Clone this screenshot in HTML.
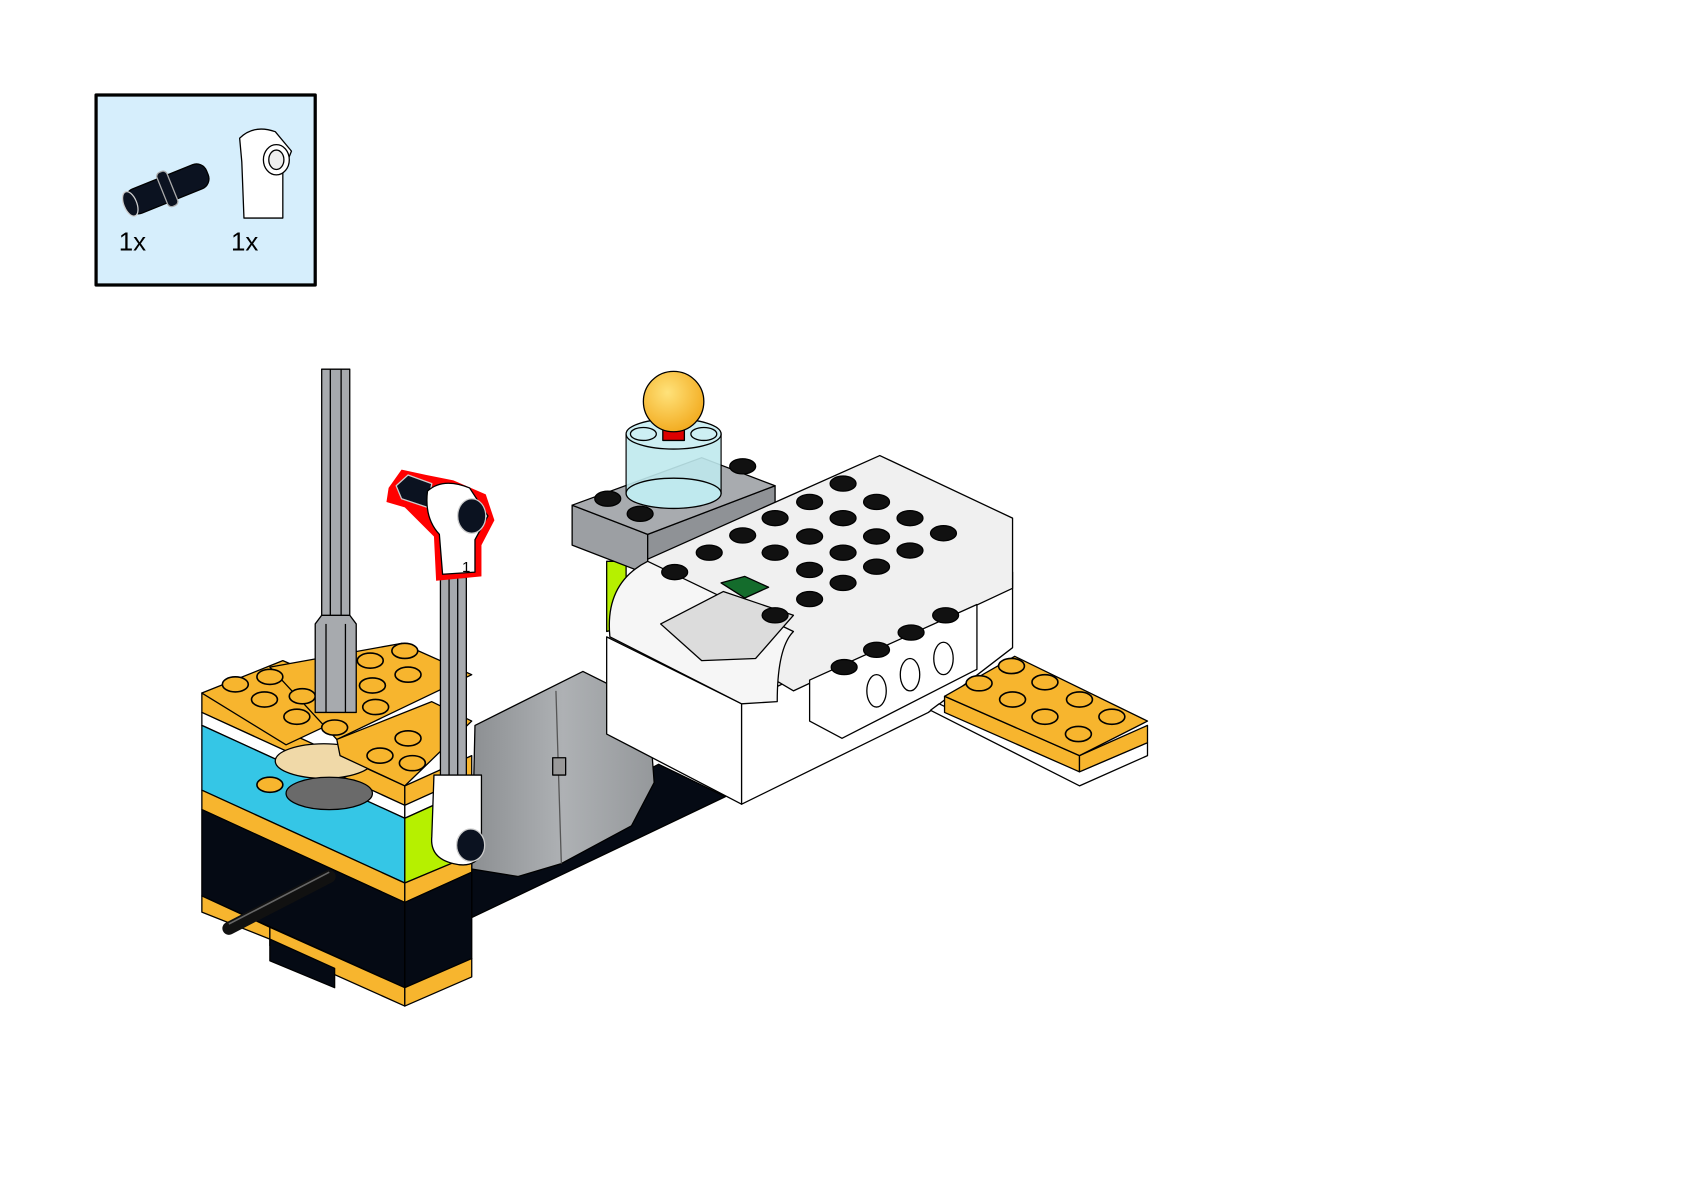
<!DOCTYPE html>
<html><head><meta charset="utf-8"><style>
html,body{margin:0;padding:0;background:#fff;width:1684px;height:1190px;overflow:hidden}
svg{display:block}
text{font-family:"Liberation Sans",sans-serif}
</style></head><body>
<svg width="1684" height="1190" viewBox="0 0 1560 1102.4" preserveAspectRatio="none" xmlns="http://www.w3.org/2000/svg">
<defs>
<radialGradient id="bulb" cx="0.4" cy="0.35" r="0.7"><stop offset="0" stop-color="#ffe27a"/><stop offset="1" stop-color="#f2a91c"/></radialGradient>
<linearGradient id="mot" x1="0" x2="1"><stop offset="0" stop-color="#8c8f92"/><stop offset="0.5" stop-color="#aeb1b4"/><stop offset="1" stop-color="#95989b"/></linearGradient>
</defs>
<g stroke="#000" stroke-width="1.2" stroke-linejoin="round">
<rect x="89" y="88" width="203" height="176" fill="#d6eefc" stroke-width="3"/>
<g transform="rotate(-22 155 175)">
<rect x="115" y="163" width="80" height="24" rx="10" fill="#0b1220"/>
<rect x="150" y="158" width="10" height="34" rx="4" fill="#0b1220" stroke="#aaa"/>
<ellipse cx="118" cy="175" rx="6" ry="12" fill="#0b1220" stroke="#ccc"/>
</g>
<path d="M222 128 Q235 115 255 122 L270 140 L262 160 L262 202 L226 202 L224 150 Z" fill="#fff"/>
<ellipse cx="256" cy="148" rx="12" ry="14" fill="#fff"/>
<ellipse cx="256" cy="148" rx="7" ry="9" fill="#eee"/>
<text x="110" y="232" font-size="24" stroke="none" fill="#000">1x</text>
<text x="214" y="232" font-size="24" stroke="none" fill="#000">1x</text>

<polygon points="437,800 610,708 672,738 437,850" fill="#050a14"/>
<polygon points="440,672 540,622 580,642 603,685 606,725 585,765 520,800 480,812 437,805" fill="url(#mot)"/>
<path d="M515 640 L520 800" fill="none" stroke="#555"/>
<rect x="512" y="702" width="12" height="16" fill="#999"/>

<polygon points="187,642 375,728 375,746 187,660" fill="#f7b52e"/>
<polygon points="187,660 375,746 375,758 187,672" fill="#fff"/>
<polygon points="187,672 375,758 375,818 187,732" fill="#35c6e6"/>
<polygon points="187,732 375,818 375,836 187,750" fill="#f7b52e"/>
<polygon points="187,750 375,836 375,915 187,830" fill="#050a14"/>
<polygon points="187,830 250,859 250,870 187,845" fill="#f7b52e"/>
<polygon points="250,859 375,915 375,932 250,876" fill="#f7b52e"/>
<polygon points="250,870 310,897 310,915 250,890" fill="#050a14"/>
<polygon points="375,728 437,700 437,718 375,746" fill="#f7b52e"/>
<polygon points="375,746 437,718 437,730 375,758" fill="#fff"/>
<polygon points="375,758 437,730 437,792 375,818" fill="#b6f000"/>
<polygon points="375,818 437,792 437,808 375,836" fill="#f7b52e"/>
<polygon points="375,836 437,808 437,888 375,915" fill="#050a14"/>
<polygon points="375,915 437,888 437,905 375,932" fill="#f7b52e"/>
<ellipse cx="300" cy="705" rx="45" ry="16" fill="#f0d9a8"/>
<ellipse cx="305" cy="735" rx="40" ry="15" fill="#6a6a6a"/>
<polygon points="187,642 262,612 350,650 265,690" fill="#f7b52e"/>
<polygon points="250,618 372,596 437,625 312,685" fill="#f7b52e"/>
<polygon points="312,685 400,650 437,668 375,728 315,700" fill="#f7b52e"/>
<g fill="#f7b52e" stroke-width="1.5">
<ellipse cx="218" cy="634" rx="12" ry="7"/><ellipse cx="250" cy="627" rx="12" ry="7"/>
<ellipse cx="245" cy="648" rx="12" ry="7"/><ellipse cx="280" cy="645" rx="12" ry="7"/>
<ellipse cx="275" cy="664" rx="12" ry="7"/><ellipse cx="310" cy="674" rx="12" ry="7"/>
<ellipse cx="343" cy="612" rx="12" ry="7"/><ellipse cx="375" cy="603" rx="12" ry="7"/>
<ellipse cx="345" cy="635" rx="12" ry="7"/><ellipse cx="378" cy="625" rx="12" ry="7"/>
<ellipse cx="348" cy="655" rx="12" ry="7"/><ellipse cx="378" cy="684" rx="12" ry="7"/>
<ellipse cx="352" cy="700" rx="12" ry="7"/><ellipse cx="382" cy="707" rx="12" ry="7"/>
<ellipse cx="250" cy="727" rx="12" ry="7"/>
</g>
<path d="M212 860 L305 812" stroke="#111" stroke-width="12" stroke-linecap="round"/>
<path d="M212 856 L305 808" stroke="#666" stroke-width="1.5"/>

<rect x="298" y="342" width="26" height="235" fill="#a7aaae"/>
<line x1="306" y1="342" x2="306" y2="577"/><line x1="316" y1="342" x2="316" y2="577"/>
<path d="M292 578 L298 570 L324 570 L330 578 L330 660 L292 660 Z" fill="#a7aaae"/>
<line x1="302" y1="578" x2="302" y2="660"/><line x1="320" y1="578" x2="320" y2="660"/>

<rect x="408" y="535" width="24" height="185" fill="#a7aaae"/>
<line x1="416" y1="535" x2="416" y2="720"/><line x1="424" y1="535" x2="424" y2="720"/>
<path d="M402 718 L446 718 L446 790 Q440 805 420 800 Q398 795 400 775 Z" fill="#fff"/>
<ellipse cx="436" cy="783" rx="13" ry="15" fill="#0b1220" stroke="#ccc"/>
<path d="M360 452 L372 435 L395 440 L420 445 L450 458 L458 482 L446 505 L446 534 L404 538 L402 497 L375 470 L358 465 Z" fill="#f00" stroke="none"/>
<path d="M367 450 L378 440 L400 448 L396 470 L372 462 Z" fill="#0b1220" stroke="#ccc"/>
<path d="M396 455 Q410 442 435 452 L452 478 L440 500 L440 530 L410 532 L407 495 Q393 480 396 455 Z" fill="#fff"/>
<ellipse cx="437" cy="478" rx="13" ry="16" fill="#0b1220" stroke="#ccc"/>
<text x="428" y="530" font-size="14" stroke="none" fill="#000">1</text>

<polygon points="562,590 687,652 687,745 562,680" fill="#fff"/>
<polygon points="687,652 938,530 938,600 860,660 687,745" fill="#fff"/>
<polygon points="562,520 580,520 580,580 562,585" fill="#b6f000"/>
<polygon points="530,468 600,495 600,532 530,505" fill="#9c9fa3"/>
<polygon points="600,495 718,450 718,487 600,532" fill="#8f9296"/>
<polygon points="530,468 650,424 718,450 600,495" fill="#a8abaf"/>
<g fill="#111"><ellipse cx="563" cy="462" rx="12" ry="7"/><ellipse cx="593" cy="476" rx="12" ry="7"/><ellipse cx="688" cy="432" rx="12" ry="7"/></g>
<polygon points="600,518 815,422 938,480 938,545 735,640 600,560" fill="#f0f0f0"/>
<path d="M565 590 Q560 540 600 520 L735 585 Q720 600 720 650 L687 652 Z" fill="#f6f6f6"/>
<polygon points="612,578 670,548 735,570 700,610 650,612" fill="#dcdcdc"/>
<polygon points="668,540 690,534 712,544 690,554" fill="#146c2c"/>
<g fill="#111">
<ellipse cx="625" cy="530" rx="12" ry="7"/><ellipse cx="657" cy="512" rx="12" ry="7"/><ellipse cx="688" cy="496" rx="12" ry="7"/>
<ellipse cx="718" cy="480" rx="12" ry="7"/><ellipse cx="750" cy="465" rx="12" ry="7"/><ellipse cx="781" cy="448" rx="12" ry="7"/>
<ellipse cx="718" cy="512" rx="12" ry="7"/><ellipse cx="750" cy="497" rx="12" ry="7"/><ellipse cx="781" cy="480" rx="12" ry="7"/><ellipse cx="812" cy="465" rx="12" ry="7"/>
<ellipse cx="750" cy="528" rx="12" ry="7"/><ellipse cx="781" cy="512" rx="12" ry="7"/><ellipse cx="812" cy="497" rx="12" ry="7"/><ellipse cx="843" cy="480" rx="12" ry="7"/>
<ellipse cx="718" cy="570" rx="12" ry="7"/><ellipse cx="750" cy="555" rx="12" ry="7"/><ellipse cx="781" cy="540" rx="12" ry="7"/><ellipse cx="812" cy="525" rx="12" ry="7"/><ellipse cx="843" cy="510" rx="12" ry="7"/><ellipse cx="874" cy="494" rx="12" ry="7"/>
</g>
<polygon points="750,630 905,560 905,620 780,684 750,668" fill="#fff"/>
<g fill="#111"><ellipse cx="782" cy="618" rx="12" ry="7"/><ellipse cx="812" cy="602" rx="12" ry="7"/><ellipse cx="844" cy="586" rx="12" ry="7"/><ellipse cx="876" cy="570" rx="12" ry="7"/></g>
<g fill="#fff"><ellipse cx="812" cy="640" rx="9" ry="15"/><ellipse cx="843" cy="625" rx="9" ry="15"/><ellipse cx="874" cy="610" rx="9" ry="15"/></g>
<polygon points="862,658 1000,728 1063,700 1063,688 1000,715 870,652" fill="#fff"/>
<polygon points="875,645 1000,700 1000,715 875,660" fill="#f7b52e"/>
<polygon points="1000,700 1063,672 1063,688 1000,715" fill="#f7b52e"/>
<polygon points="875,645 940,608 1063,668 1000,700" fill="#f7b52e"/>
<g fill="#f7b52e" stroke-width="1.5">
<ellipse cx="907" cy="633" rx="12" ry="7"/><ellipse cx="937" cy="617" rx="12" ry="7"/>
<ellipse cx="938" cy="648" rx="12" ry="7"/><ellipse cx="968" cy="632" rx="12" ry="7"/>
<ellipse cx="968" cy="664" rx="12" ry="7"/><ellipse cx="1000" cy="648" rx="12" ry="7"/>
<ellipse cx="999" cy="680" rx="12" ry="7"/><ellipse cx="1030" cy="664" rx="12" ry="7"/>
</g>

<rect x="580" y="402" width="88" height="55" fill="#bfe9ee" opacity="0.9"/>
<ellipse cx="624" cy="457" rx="44" ry="14" fill="#bfe9ee"/>
<ellipse cx="624" cy="402" rx="44" ry="14" fill="#cdeff3"/>
<ellipse cx="596" cy="402" rx="12" ry="6" fill="#cdeff3"/><ellipse cx="652" cy="402" rx="12" ry="6" fill="#cdeff3"/>
<rect x="614" y="394" width="20" height="14" fill="#d00"/>
<circle cx="624" cy="372" r="28" fill="url(#bulb)"/>
</g>
</svg>
</body></html>
